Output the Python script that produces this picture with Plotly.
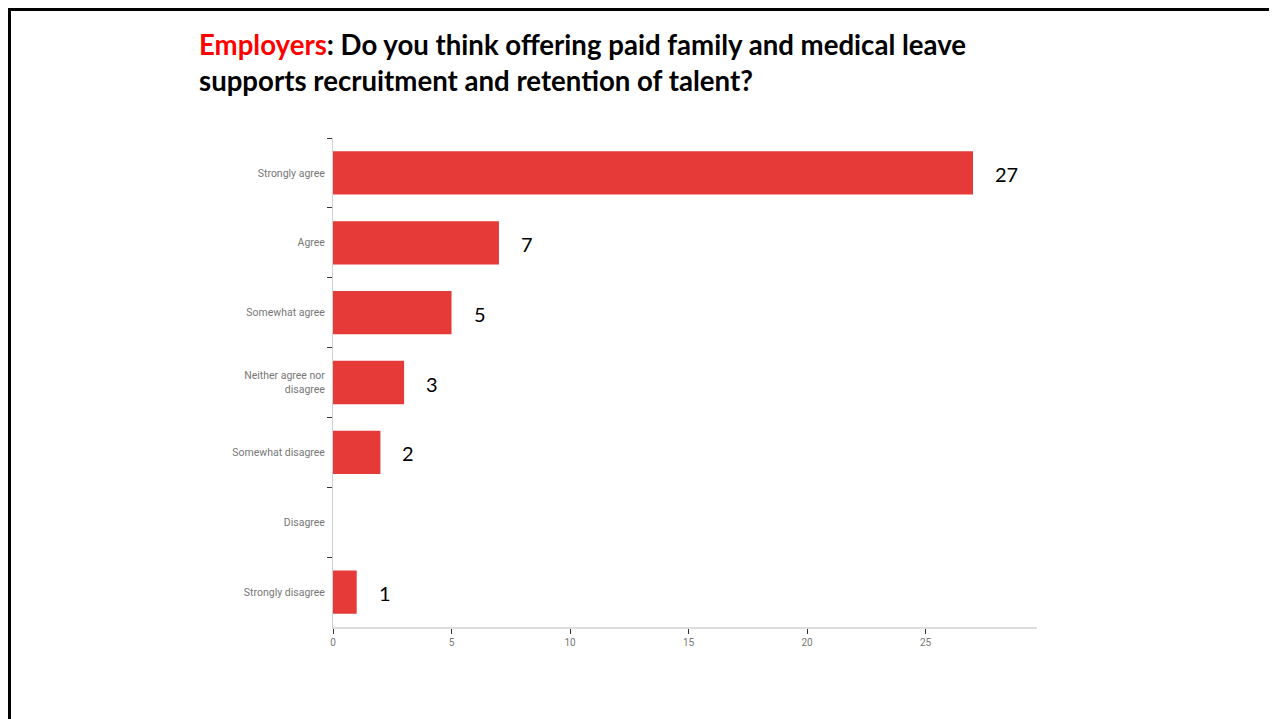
import plotly.graph_objects as go

categories = ["Strongly agree", "Agree", "Somewhat agree", "Neither agree nor<br>disagree",
              "Somewhat disagree", "Disagree", "Strongly disagree"]
values = [27, 7, 5, 3, 2, 0, 1]
x_ticks = [0, 5, 10, 15, 20, 25]

# page body has an 8px margin; work in reference pixel coordinates and shift
OFF = 8
W, H = 1277 - OFF, 719 - OFF
L, T = 333 - OFF, 138 - OFF
R = W - (1037 - OFF)
B = H - (627 - OFF)
pw, ph = W - L - R, H - T - B

def px_x(p):
    return (p - OFF - L) / pw

def px_y(p):
    return 1 - (p - OFF - T) / ph

BAR = "#E53A37"

fig = go.Figure(go.Bar(
    x=values, y=categories, orientation="h",
    marker=dict(color=BAR, line=dict(width=0)),
    hoverinfo="x+y",
))

annotations = []
for c, v in zip(categories, values):
    if v > 0:
        annotations.append(dict(x=v, y=c, xref="x", yref="y", text=str(v),
                                showarrow=False, xanchor="left", xshift=20, yshift=-1,
                                font=dict(family="Lato, Open Sans, sans-serif", size=20, color="#000")))

annotations.append(dict(
    xref="paper", yref="paper", x=px_x(197), y=px_y(26), xanchor="left", yanchor="top",
    align="left", showarrow=False,
    text="<b><span style='color:#FF0000'>Employers</span>: Do you think offering paid family and medical leave<br>supports recruitment and retention of talent?</b>",
    font=dict(family="Lato, Open Sans, sans-serif", size=27.6, color="#000"),
))

shapes = [
    dict(type="line", xref="paper", yref="paper", x0=px_x(8), x1=px_x(1300), y0=px_y(9.5), y1=px_y(9.5),
         line=dict(color="#000", width=3)),
    dict(type="line", xref="paper", yref="paper", x0=px_x(9.5), x1=px_x(9.5), y0=px_y(8), y1=px_y(740),
         line=dict(color="#000", width=3)),
]

fig.update_layout(
    width=W, height=H,
    margin=dict(l=L, r=R, t=T, b=B, pad=0),
    paper_bgcolor="white", plot_bgcolor="white",
    bargap=0.38,
    showlegend=False,
    annotations=annotations,
    shapes=shapes,
    font=dict(family="Roboto, sans-serif"),
)

fig.update_xaxes(
    range=[0, 29.7], tickvals=x_ticks, ticks="outside", ticklen=5, tickcolor="#333", tickwidth=1,
    showgrid=False, zeroline=False, showline=True, linecolor="#dddddd", linewidth=2,
    tickfont=dict(family="Roboto, sans-serif", size=10, color="#777"),
)
fig.update_yaxes(
    categoryorder="array", categoryarray=categories, autorange="reversed",
    tickson="boundaries", ticks="outside", ticklen=5, tickcolor="#333", tickwidth=1,
    showgrid=False, zeroline=False, showline=True, linecolor="#d0d0d0", linewidth=1,
    tickfont=dict(family="Roboto, sans-serif", size=10.5, color="#777"),
    ticklabelstandoff=5,
)

fig.write_html("out.html")
